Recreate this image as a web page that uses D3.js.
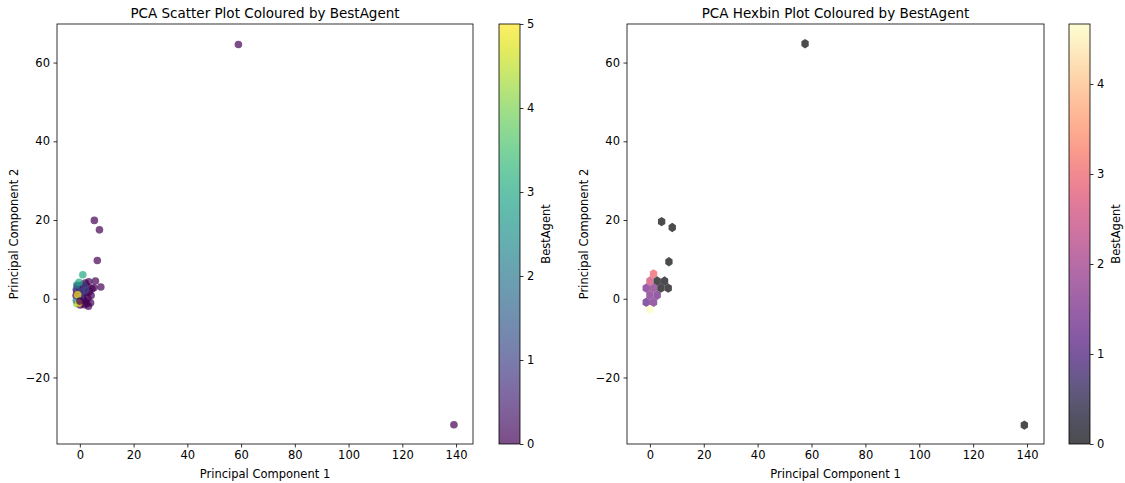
<!DOCTYPE html>
<html>
<head>
<meta charset="utf-8">
<script src="https://cdn.jsdelivr.net/npm/d3@7"></script>
<style>
  body { margin: 0; background: #fff; }
  .chart { width: 1125px; height: 483px; }
  text { font-family: "DejaVu Sans", sans-serif; fill: #000; }
</style>
</head>
<body>
<div class="chart"></div>
<script>
// scatter points: PCA coordinates and BestAgent value (drawn in this order)
const pc1 = [1.3, -1.1,
  59.0, 139.2, 5.4, 7.3, 6.5, 3.3, 5.8, 7.8, 4.5, 3.5, 2.6, 4.2, 3.0, 2.0, 2.3, 1.5, 0.8, -0.8, -1.2, -0.5,
  0.5, 1.2, 0.2, 1.8, 2.6, -1.4, 0.0, 1.0, 5.2, 2.0, 3.2, 4.0,
  -1.3, 0.6, 2.2, 0.3, 1.6,
  -1.15, -1.3,
  1.1, -0.3,
  -0.4, -0.8, 0.0];
const pc2 = [3.0, -1.3,
  64.6, -32.0, 19.9, 17.5, 9.7, 4.3, 4.5, 3.0, 2.5, 1.8, 3.2, 0.8, 0.2, -0.5, 1.5, 2.6, 3.5, 3.2, 2.0, 1.0,
  0.3, -0.2, -1.6, -1.5, -1.2, 0.8, 2.2, 1.2, 2.8, 4.0, -1.9, -1.0,
  2.4, 1.8, 2.2, 0.6, 3.3,
  3.5, -0.4,
  6.1, 4.2,
  -1.1, 1.0, -0.6];
const bestAgent = [5, 4,
  0, 0, 0, 0, 0, 0, 0, 0, 0, 0, 0, 0, 0, 0, 0, 0, 0, 0, 0, 0,
  0, 0, 0, 0, 0, 0, 0, 0, 0, 0, 0, 0,
  1, 1, 1, 1, 1,
  2, 2,
  3, 3,
  5, 5, 0];

// hexbin cells: centre (data units) and mean BestAgent
const hexX = [57.6, 139.0, 4.35, 8.3, 7.06, 1.36, 0, 2.72, 5.44, -1.36, 1.36, 4.08, 6.8, 0, 2.72, -1.36, 1.36, 0];
const hexY = [64.8, -32.1, 19.6, 18.1, 9.4, 6.3, 4.5, 4.5, 4.5, 2.7, 2.7, 2.7, 2.7, 0.9, 0.9, -0.9, -0.9, -2.7];
const hexVal = [0, 0, 0, 0, 0, 3.0, 2.6, 0, 0, 1.5, 1.7, 0, 0, 1.6, 1.4, 1.3, 1.5, 4.667];
const hexW = 2.72, hexSy = 3.6;   // hex cell size in data units

const xTicks = [0, 20, 40, 60, 80, 100, 120, 140];
const yTicks = [-20, 0, 20, 40, 60];
const cbTicksL = [0, 1, 2, 3, 4, 5];
const cbTicksR = [0, 1, 2, 3, 4];

const width = 1125, height = 483;
const svg = d3.select('.chart').append('svg')
  .attr('width', width).attr('height', height);
const defs = svg.append('defs');

const yTop = 24, yBot = 444;
const y = d3.scaleLinear().domain([-36.9, 69.8]).range([yBot, yTop]);
const fs = '11.5px';

function panel(x0, x1, title) {
  const x = d3.scaleLinear().domain([-8.5, 146.3]).range([x0, x1]);
  const g = svg.append('g');
  const ax = g.append('g').attr('transform', `translate(0,${yBot})`)
    .call(d3.axisBottom(x).tickValues(xTicks).tickSize(3.5).tickPadding(3.5).tickFormat(d3.format('d')));
  const ay = g.append('g').attr('transform', `translate(${x0},0)`)
    .call(d3.axisLeft(y).tickValues(yTicks).tickSize(3.5).tickPadding(3.5).tickFormat(d3.format('d')));
  [ax, ay].forEach(a => {
    a.select('.domain').remove();
    a.selectAll('line').attr('stroke', '#000').attr('stroke-width', 0.8);
    a.selectAll('text').style('font-size', fs).attr('fill', '#000');
  });
  g.append('text').attr('x', (x0 + x1) / 2).attr('y', 17.5).attr('text-anchor', 'middle')
    .style('font-size', '13.5px').text(title);
  g.append('text').attr('x', (x0 + x1) / 2).attr('y', 478).attr('text-anchor', 'middle')
    .style('font-size', fs).text('Principal Component 1');
  g.append('text').attr('transform', `translate(${x0 - 39},${(yTop + yBot) / 2}) rotate(-90)`)
    .attr('text-anchor', 'middle').style('font-size', fs).text('Principal Component 2');
  const plot = g.append('g');
  g.append('rect').attr('x', x0).attr('y', yTop).attr('width', x1 - x0).attr('height', yBot - yTop)
    .attr('fill', 'none').attr('stroke', '#000').attr('stroke-width', 0.8);
  return { x, plot };
}

function colorbar(id, x0, max, interp, ticks) {
  const s = d3.scaleLinear().domain([0, max]).range([yBot, yTop]);
  const grad = defs.append('linearGradient').attr('id', id)
    .attr('x1', 0).attr('y1', 1).attr('x2', 0).attr('y2', 0);
  d3.range(0, 1.0001, 0.05).forEach(t => {
    grad.append('stop').attr('offset', t).attr('stop-color', interp(t)).attr('stop-opacity', 0.7);
  });
  svg.append('rect').attr('x', x0).attr('y', yTop).attr('width', 21).attr('height', yBot - yTop)
    .attr('fill', `url(#${id})`).attr('stroke', '#000').attr('stroke-width', 0.8);
  const a = svg.append('g').attr('transform', `translate(${x0 + 21},0)`)
    .call(d3.axisRight(s).tickValues(ticks).tickSize(3.5).tickPadding(3.5).tickFormat(d3.format('d')));
  a.select('.domain').remove();
  a.selectAll('line').attr('stroke', '#000').attr('stroke-width', 0.8);
  a.selectAll('text').style('font-size', fs).attr('fill', '#000');
  svg.append('text').attr('transform', `translate(${x0 + 51},${(yTop + yBot) / 2}) rotate(-90)`)
    .attr('text-anchor', 'middle').style('font-size', fs).text('BestAgent');
}

// left: scatter
const left = panel(57, 473, 'PCA Scatter Plot Coloured by BestAgent');
const vir = d3.scaleSequential(d3.interpolateViridis).domain([0, 5]);
left.plot.selectAll('circle').data(d3.range(pc1.length)).join('circle')
  .attr('cx', i => left.x(pc1[i])).attr('cy', i => y(pc2[i])).attr('r', 3.8)
  .attr('fill', i => vir(bestAgent[i])).attr('fill-opacity', 0.7);
colorbar('gv', 499, 5, d3.interpolateViridis, cbTicksL);

// right: hexbin
const right = panel(627, 1044, 'PCA Hexbin Plot Coloured by BestAgent');
const hexMax = 4.667;
const mag = d3.scaleSequential(d3.interpolateMagma).domain([0, hexMax]);
function hexPath(cx, cy) {
  const pts = [[0.5, -1 / 6], [0.5, 1 / 6], [0, 1 / 3], [-0.5, 1 / 6], [-0.5, -1 / 6], [0, -1 / 3]]
    .map(([dx, dy]) => [right.x(cx + dx * hexW), y(cy + dy * hexSy)]);
  return 'M' + pts.join('L') + 'Z';
}
right.plot.selectAll('path').data(d3.range(hexX.length)).join('path')
  .attr('d', i => hexPath(hexX[i], hexY[i]))
  .attr('fill', i => mag(hexVal[i])).attr('fill-opacity', 0.7);
colorbar('gm', 1069, hexMax, d3.interpolateMagma, cbTicksR);
</script>
</body>
</html>
